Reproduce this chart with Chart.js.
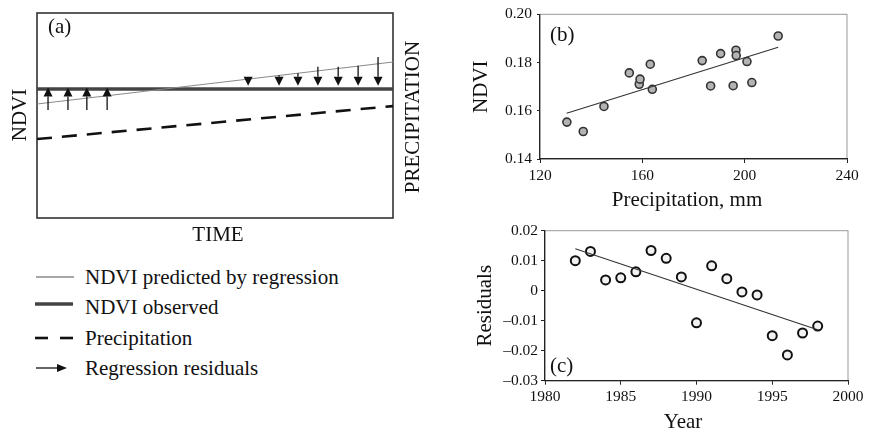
<!DOCTYPE html>
<html lang="en">
<head>
    <meta charset="UTF-8">
    <title>NDVI, precipitation and regression residuals</title>
    <script src="https://cdn.jsdelivr.net/npm/chart.js"></script>
    <style>
        html, body { margin: 0; padding: 0; background: #fff; overflow: hidden; }
        body { width: 871px; height: 432px; position: relative; font-family: "Liberation Serif", "Times New Roman", serif; color: #111; }
        canvas { position: absolute; }
        #chartA { left: 0; top: 0; }
        #chartB { left: 440px; top: 0; }
        #chartC { left: 440px; top: 215px; }
        .leg { position: absolute; left: 0; height: 24px; width: 440px; }
        .leg span { position: absolute; left: 85px; top: 0; font-size: 21px; line-height: 24px; white-space: nowrap; }
        .leg svg { position: absolute; left: 30px; top: 0; }
    </style>
</head>
<body>
    <canvas id="chartA" width="440" height="250"></canvas>
    <canvas id="chartB" width="431" height="215"></canvas>
    <canvas id="chartC" width="431" height="235"></canvas>
    <div id="legendA"></div>

    <script>
        // ---- panel (a): schematic, time and value on a 0..100 scale ----
        const timeEnds = [0, 100];
        const ndviPredicted = [55.6, 76.1];
        const ndviObserved = [62.9, 62.9];
        const precipitation = [38.5, 54.6];
        // residual arrows: time position, start value, tip value
        const residTime = [3.1, 8.7, 14.0, 19.7, 59.3, 68.0, 73.3, 78.9, 84.6, 90.2, 95.8];
        const residFrom = [52.7, 52.7, 52.7, 52.7, 67.8, 69.6, 70.6, 73.8, 73.8, 74.3, 78.5];
        const residTo = [63.6, 63.6, 63.6, 63.6, 64.5, 64.5, 64.5, 64.5, 64.5, 64.5, 64.5];
        const legendNames = ['NDVI predicted by regression', 'NDVI observed', 'Precipitation', 'Regression residuals'];

        // ---- panel (b): NDVI vs precipitation ----
        const precipMm = [130.5, 136.9, 145.0, 154.9, 158.8, 159.1, 163.1, 163.9, 183.4, 186.7, 190.6, 195.5, 196.6, 196.7, 200.9, 202.8, 213.1];
        const ndviValues = [0.1553, 0.1514, 0.1618, 0.1757, 0.1710, 0.1731, 0.1793, 0.1689, 0.1808, 0.1703, 0.1837, 0.1704, 0.1851, 0.1829, 0.1804, 0.1717, 0.1910];
        const fitBX = [130.4, 213.1];
        const fitBY = [0.1590, 0.1863];
        const ticksB_x = [120, 160, 200, 240];
        const ticksB_y = [0.14, 0.16, 0.18, 0.20];

        // ---- panel (c): residuals by year ----
        const years = [1982, 1983, 1984, 1985, 1986, 1987, 1988, 1989, 1990, 1991, 1992, 1993, 1994, 1995, 1996, 1997, 1998];
        const residuals = [0.0100, 0.0131, 0.0036, 0.0043, 0.0063, 0.0134, 0.0108, 0.0046, -0.0107, 0.0083, 0.0040, -0.0004, -0.0014, -0.0150, -0.0214, -0.0141, -0.0118];
        const fitCX = [1982, 1998];
        const fitCY = [0.0140, -0.0130];
        const ticksC_x = [1980, 1985, 1990, 1995, 2000];
        const ticksC_y = [-0.03, -0.02, -0.01, 0, 0.01, 0.02];

        const serif = '"Liberation Serif", "Times New Roman", serif';
        Chart.defaults.font.family = serif;
        Chart.defaults.color = '#111';
        Chart.defaults.animation = false;

        const pairs = (xs, ys) => xs.map((v, i) => ({ x: v, y: ys[i] }));

        // frame round the plot area
        const frame = {
            id: 'frame',
            beforeDraw(chart, args, opts) {
                const { ctx, chartArea: a } = chart;
                ctx.save();
                ctx.strokeStyle = opts.color;
                ctx.lineWidth = opts.width;
                ctx.strokeRect(a.left, a.top, a.right - a.left, a.bottom - a.top);
                ctx.restore();
            }
        };

        // free text pinned to the plot area: [text, dx, dy, rotation, align]
        const notes = {
            id: 'notes',
            afterDraw(chart, args, opts) {
                const { ctx, chartArea: a } = chart;
                ctx.save();
                ctx.fillStyle = '#111';
                ctx.font = '21px ' + serif;
                ctx.textBaseline = 'middle';
                (opts.items || []).forEach(([t, dx, dy, rot, align]) => {
                    ctx.save();
                    ctx.translate(a.left + dx, a.top + dy);
                    ctx.rotate(rot || 0);
                    ctx.textAlign = align || 'left';
                    ctx.fillText(t, 0, 0);
                    ctx.restore();
                });
                ctx.restore();
            }
        };

        // residual arrows of panel (a)
        const arrows = {
            id: 'arrows',
            afterDatasetsDraw(chart) {
                const { ctx, scales: { x, y } } = chart;
                ctx.save();
                ctx.strokeStyle = '#111';
                ctx.fillStyle = '#111';
                ctx.lineWidth = 1.3;
                residTime.forEach((t, i) => {
                    const px = x.getPixelForValue(t);
                    const y0 = y.getPixelForValue(residFrom[i]);
                    const y1 = y.getPixelForValue(residTo[i]);
                    const dir = Math.sign(y1 - y0);
                    const base = y1 - dir * 9;
                    if ((base - y0) * dir > 0) {
                        ctx.beginPath();
                        ctx.moveTo(px, y0);
                        ctx.lineTo(px, base);
                        ctx.stroke();
                    }
                    ctx.beginPath();
                    ctx.moveTo(px, y1);
                    ctx.lineTo(px - 4.5, base);
                    ctx.lineTo(px + 4.5, base);
                    ctx.closePath();
                    ctx.fill();
                });
                ctx.restore();
            }
        };

        new Chart(document.getElementById('chartA'), {
            type: 'line',
            data: {
                datasets: [
                    { label: legendNames[0], data: pairs(timeEnds, ndviPredicted), borderColor: '#8a8a8a', borderWidth: 1.2, pointRadius: 0 },
                    { label: legendNames[1], data: pairs(timeEnds, ndviObserved), borderColor: '#444', borderWidth: 3.5, pointRadius: 0 },
                    { label: legendNames[2], data: pairs(timeEnds, precipitation), borderColor: '#111', borderWidth: 2.6, borderDash: [15, 10], pointRadius: 0 }
                ]
            },
            options: {
                responsive: false,
                devicePixelRatio: 1,
                layout: { padding: { left: 37, right: 47, top: 13, bottom: 32 } },
                scales: {
                    x: { type: 'linear', min: 0, max: 100, display: false },
                    y: { min: 0, max: 100, display: false }
                },
                plugins: {
                    legend: { display: false },
                    tooltip: { enabled: false },
                    frame: { color: '#333', width: 1.6 },
                    notes: {
                        items: [
                            ['(a)', 11, 14],
                            ['NDVI', -17, 102, -Math.PI / 2, 'center'],
                            ['PRECIPITATION', 376, 104, -Math.PI / 2, 'center'],
                            ['TIME', 181, 222, 0, 'center']
                        ]
                    }
                }
            },
            plugins: [frame, notes, arrows]
        });

        // legend of panel (a)
        const keys = [
            '<line x1="6" y1="12" x2="44" y2="12" stroke="#8a8a8a" stroke-width="1.3"/>',
            '<line x1="5" y1="9" x2="43" y2="9" stroke="#444" stroke-width="3.5"/>',
            '<line x1="5" y1="12" x2="18" y2="12" stroke="#111" stroke-width="2.6"/><line x1="30" y1="12" x2="43" y2="12" stroke="#111" stroke-width="2.6"/>',
            '<line x1="6" y1="12" x2="30" y2="12" stroke="#111" stroke-width="1.3"/><polygon points="37,12 27,8 27,16" fill="#111"/>'
        ];
        const rowCenters = [277, 307, 338, 368];
        document.getElementById('legendA').innerHTML = legendNames.map((n, i) =>
            '<div class="leg" style="top:' + (rowCenters[i] - 12) + 'px"><svg width="50" height="24">' + keys[i] +
            '</svg><span>' + n + '</span></div>').join('');

        const tickFont = { size: 15.5, family: serif };
        const titleFont = { size: 21, family: serif };
        const minus = v => v === 0 ? '0' : (v < 0 ? '\u2013' : '') + Math.abs(v).toFixed(2);

        new Chart(document.getElementById('chartB'), {
            type: 'scatter',
            data: {
                datasets: [
                    { type: 'line', data: pairs(fitBX, fitBY), borderColor: '#333', borderWidth: 1.1, pointRadius: 0 },
                    { data: pairs(precipMm, ndviValues), backgroundColor: '#b3b3b3', borderColor: '#333', borderWidth: 1.6, pointRadius: 4 }
                ]
            },
            options: {
                responsive: false,
                devicePixelRatio: 1,
                layout: { padding: { left: 0, right: 24, top: 11, bottom: 0 } },
                scales: {
                    x: {
                        type: 'linear', min: 120, max: 240,
                        afterFit: s => { s.height = 56; },
                        afterBuildTicks: s => { s.ticks = ticksB_x.map(v => ({ value: v })); },
                        ticks: { font: tickFont, padding: 3.5, maxRotation: 0, callback: v => String(v) },
                        grid: { drawOnChartArea: false, tickLength: 4, color: '#222' },
                        border: { color: '#222', width: 1.2 }
                    },
                    y: {
                        min: 0.14, max: 0.20,
                        afterFit: s => { s.width = 100; },
                        afterBuildTicks: s => { s.ticks = ticksB_y.map(v => ({ value: v })); },
                        ticks: { font: tickFont, padding: 5, callback: v => v.toFixed(2) },
                        grid: { drawOnChartArea: false, tickLength: 3, color: '#222' },
                        border: { color: '#222', width: 1.2 },
                        title: { display: true, text: 'NDVI', font: titleFont, padding: { top: 29, bottom: 0 } }
                    }
                },
                plugins: {
                    legend: { display: false },
                    tooltip: { enabled: false },
                    frame: { color: '#999', width: 1 },
                    notes: { items: [['(b)', 10, 21], ['Precipitation, mm', 147, 186, 0, 'center']] }
                }
            },
            plugins: [frame, notes]
        });

        new Chart(document.getElementById('chartC'), {
            type: 'scatter',
            data: {
                datasets: [
                    { type: 'line', data: pairs(fitCX, fitCY), borderColor: '#333', borderWidth: 1.1, pointRadius: 0 },
                    { data: pairs(years, residuals), backgroundColor: '#f2f2f2', borderColor: '#111', borderWidth: 2, pointRadius: 4.5 }
                ]
            },
            options: {
                responsive: false,
                devicePixelRatio: 1,
                layout: { padding: { left: 0, right: 23, top: 15.7, bottom: 0 } },
                scales: {
                    x: {
                        type: 'linear', min: 1980, max: 2000,
                        afterFit: s => { s.height = 69.3; },
                        afterBuildTicks: s => { s.ticks = ticksC_x.map(v => ({ value: v })); },
                        ticks: { font: tickFont, padding: 3, maxRotation: 0, callback: v => String(v) },
                        grid: { drawOnChartArea: false, tickLength: 4, color: '#222' },
                        border: { color: '#222', width: 1.2 }
                    },
                    y: {
                        min: -0.03, max: 0.02,
                        afterFit: s => { s.width = 105; },
                        afterBuildTicks: s => { s.ticks = ticksC_y.map(v => ({ value: v })); },
                        ticks: { font: tickFont, padding: 3, callback: minus },
                        grid: { drawOnChartArea: false, tickLength: 4, color: '#222' },
                        border: { color: '#222', width: 1.2 },
                        title: { display: true, text: 'Residuals', font: titleFont, padding: { top: 32.4, bottom: 0 } }
                    }
                },
                plugins: {
                    legend: { display: false },
                    tooltip: { enabled: false },
                    frame: { color: '#999', width: 1 },
                    notes: { items: [['(c)', 5, 136], ['Year', 138, 192, 0, 'center']] }
                }
            },
            plugins: [frame, notes]
        });
    </script>
</body>
</html>
